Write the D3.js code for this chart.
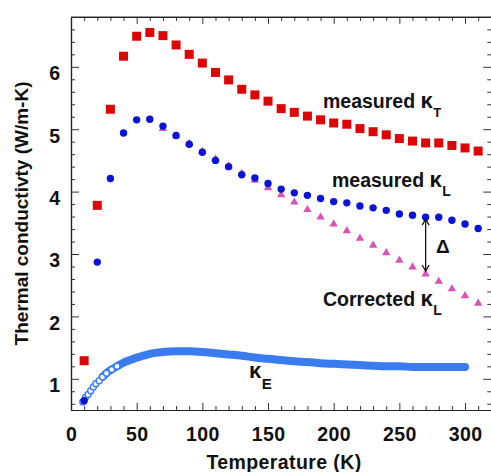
<!DOCTYPE html>
<html>
<head>
<meta charset="utf-8">
<script src="https://cdn.jsdelivr.net/npm/d3@7"></script>
<style>
  body { margin: 0; background: #fff; }
  svg text { font-family: "Liberation Sans", Arial, sans-serif; font-weight: bold; fill: #111; }
</style>
</head>
<body>
<div id="chart"></div>
<script>
// temperatures of the measured points (K)
const temps = [10, 20, 30, 40, 50, 60, 70, 80, 90, 100, 110, 120, 130, 140, 150, 160,
  170, 180, 190, 200, 210, 220, 230, 240, 250, 260, 270, 280, 290, 300, 310];

// measured total kappa_T
const kappaT = [1.29, 3.78, 5.32, 6.17, 6.49, 6.55, 6.50, 6.35, 6.20, 6.06, 5.91, 5.79, 5.64, 5.55, 5.45, 5.33,
  5.27, 5.21, 5.15, 5.10, 5.08, 5.01, 4.96, 4.91, 4.85, 4.81, 4.78, 4.78, 4.74, 4.70, 4.65];

// measured lattice kappa_L
const kappaL = [0.65, 2.87, 4.21, 4.94, 5.15, 5.16, 5.05, 4.90, 4.76, 4.63, 4.50, 4.40, 4.27, 4.22, 4.13, 4.04,
  3.98, 3.94, 3.89, 3.84, 3.82, 3.77, 3.74, 3.70, 3.64, 3.62, 3.59, 3.59, 3.54, 3.48, 3.41];

// corrected kappa_L (starts at 70 K)
const correctedTemps = [70, 80, 90, 100, 110, 120, 130, 140, 150, 160, 170, 180, 190, 200,
  210, 220, 230, 240, 250, 260, 270, 280, 290, 300, 310];
const correctedL = [5.01, 4.89, 4.77, 4.64, 4.52, 4.41, 4.29, 4.18, 4.06, 3.95, 3.83, 3.71, 3.59, 3.48,
  3.37, 3.25, 3.14, 3.02, 2.90, 2.79, 2.68, 2.56, 2.44, 2.33, 2.21];

// electronic kappa_E
const kappaETemps = [9, 11, 13, 15, 17, 19, 21.5, 24, 27, 31, 35, 40, 45, 50, 55, 60, 70, 80, 90, 100,
  110, 120, 130, 140, 150, 160, 170, 180, 190, 200, 210, 220, 230, 240, 250, 260, 270, 280, 290, 300];
const kappaE = [0.63, 0.70, 0.75, 0.81, 0.87, 0.92, 0.97, 1.03, 1.09, 1.15, 1.20, 1.26, 1.30, 1.34, 1.37, 1.40,
  1.43, 1.44, 1.44, 1.43, 1.41, 1.39, 1.37, 1.34, 1.32, 1.30, 1.28, 1.27, 1.25, 1.24, 1.23, 1.22,
  1.21, 1.20, 1.20, 1.19, 1.19, 1.19, 1.19, 1.19];

const xTicks = [0, 50, 100, 150, 200, 250, 300];
const yTicks = [1, 2, 3, 4, 5, 6];
const deltaTemp = 270;

const width = 491, height = 472;
const svg = d3.select("#chart").append("svg")
  .attr("width", width)
  .attr("height", height);

const x = d3.scaleLinear().domain([0, 320]).range([71, 491.3]);
const y = d3.scaleLinear().domain([0.5, 6.8]).range([410, 16.9]);

const xMinor = d3.range(0, 321, 10).filter(d => d % 50 !== 0);
const yMinor = d3.range(6, 69, 2).map(d => d / 10).filter(d => Math.abs(d - Math.round(d)) > 0.01);

function styleAxis(g) {
  g.select(".domain").attr("stroke", "#222").attr("stroke-width", 1.2);
  g.selectAll(".tick line").attr("stroke", "#333");
}

// bottom axis
svg.append("g")
  .attr("transform", `translate(0,${y(0.5)})`)
  .call(d3.axisBottom(x).tickValues(xMinor).tickSizeInner(-4).tickSizeOuter(0).tickFormat(""))
  .call(styleAxis);
const bottom = svg.append("g")
  .attr("transform", `translate(0,${y(0.5)})`)
  .call(d3.axisBottom(x).tickValues(xTicks).tickSizeInner(-7).tickSizeOuter(0).tickPadding(17))
  .call(styleAxis);
bottom.selectAll("text").attr("font-size", 19.5).attr("letter-spacing", 0.4).attr("fill", "#111");

// top axis
svg.append("g")
  .attr("transform", `translate(0,${y(6.8)})`)
  .call(d3.axisTop(x).tickValues(xMinor).tickSizeInner(-4).tickSizeOuter(0).tickFormat(""))
  .call(styleAxis);
svg.append("g")
  .attr("transform", `translate(0,${y(6.8)})`)
  .call(d3.axisTop(x).tickValues(xTicks).tickSizeInner(-7).tickSizeOuter(0).tickFormat(""))
  .call(styleAxis);

// left axis
svg.append("g")
  .attr("transform", `translate(${x(0)},0)`)
  .call(d3.axisLeft(y).tickValues(yMinor).tickSizeInner(-4).tickSizeOuter(0).tickFormat(""))
  .call(styleAxis);
const left = svg.append("g")
  .attr("transform", `translate(${x(0)},0)`)
  .call(d3.axisLeft(y).tickValues(yTicks).tickFormat(d3.format("d"))
    .tickSizeInner(-8).tickSizeOuter(0).tickPadding(11))
  .call(styleAxis);
left.selectAll("text").attr("font-size", 19.5).attr("dy", "0.66em").attr("fill", "#111");

// right axis
svg.append("g")
  .attr("transform", `translate(${x(320)},0)`)
  .call(d3.axisRight(y).tickValues(yMinor).tickSizeInner(-4).tickSizeOuter(0).tickFormat(""))
  .call(styleAxis);
svg.append("g")
  .attr("transform", `translate(${x(320)},0)`)
  .call(d3.axisRight(y).tickValues(yTicks).tickSizeInner(-8).tickSizeOuter(0).tickFormat(""))
  .call(styleAxis);

// axis titles
svg.append("text")
  .attr("x", 284).attr("y", 469)
  .attr("text-anchor", "middle")
  .attr("font-size", 19.5)
  .attr("letter-spacing", 0.4)
  .text("Temperature (K)");
svg.append("text")
  .attr("transform", `translate(28,${y(3.65)}) rotate(-90)`)
  .attr("text-anchor", "middle")
  .attr("font-size", 19)
  .text("Thermal conductivty (W/m-K)");

// kappa_E: dense open circles forming a thick band
const eData = kappaETemps.map((t, i) => ({ t: t, v: kappaE[i] }));
svg.append("path")
  .datum(eData.filter(d => d.t >= 24))
  .attr("fill", "none")
  .attr("stroke", "#3a7cf0")
  .attr("stroke-width", 8)
  .attr("stroke-linecap", "round")
  .attr("d", d3.line().x(d => x(d.t)).y(d => y(d.v)).curve(d3.curveMonotoneX));
svg.selectAll(".ke")
  .data(eData.filter(d => d.t <= 35))
  .join("circle")
  .attr("cx", d => x(d.t))
  .attr("cy", d => y(d.v))
  .attr("r", 3)
  .attr("fill", "#fff")
  .attr("stroke", "#3a7cf0")
  .attr("stroke-width", 1.4);

// measured kappa_T squares
svg.selectAll(".kt")
  .data(temps)
  .join("rect")
  .attr("x", (d, i) => x(d) - 4.5)
  .attr("y", (d, i) => y(kappaT[i]) - 4.5)
  .attr("width", 9)
  .attr("height", 9)
  .attr("fill", "#dd0606");

// corrected kappa_L triangles
svg.selectAll(".kc")
  .data(correctedTemps)
  .join("path")
  .attr("transform", (d, i) => `translate(${x(d)},${y(correctedL[i])})`)
  .attr("d", d3.symbol(d3.symbolTriangle, 30))
  .attr("fill", "#d853b8");

// measured kappa_L circles
svg.selectAll(".kl")
  .data(temps)
  .join("circle")
  .attr("cx", d => x(d))
  .attr("cy", (d, i) => y(kappaL[i]))
  .attr("r", 3.7)
  .attr("fill", "#0a14d8");

// delta arrow between the two kappa_L curves
const ax = x(deltaTemp);
const yTop = y(kappaL[temps.indexOf(deltaTemp)]) + 2;
const yBot = y(correctedL[correctedTemps.indexOf(deltaTemp)]) - 3;
const arrow = svg.append("g").attr("stroke", "#111").attr("stroke-width", 1.3).attr("fill", "none");
arrow.append("line").attr("x1", ax).attr("x2", ax).attr("y1", yTop).attr("y2", yBot);
arrow.append("path").attr("d", `M${ax - 3.5},${yTop + 6}L${ax},${yTop}L${ax + 3.5},${yTop + 6}`);
arrow.append("path").attr("d", `M${ax - 3.5},${yBot - 6}L${ax},${yBot}L${ax + 3.5},${yBot - 6}`);
svg.append("text").attr("x", 436).attr("y", 253).attr("font-size", 19).text("Δ");

// series labels
function label(px, py, main, sub, subSize, subDy) {
  const t = svg.append("text").attr("x", px).attr("y", py).attr("font-size", 19.5);
  if (main) t.append("tspan").text(main + " ");
  t.append("tspan").attr("font-size", 22).text("κ");
  t.append("tspan").attr("font-size", subSize).attr("dy", subDy).attr("dx", 0.5).text(sub);
}
label(323, 108, "measured", "T", 13, 9);
label(332, 187, "measured", "L", 14, 9);
label(323, 306, "Corrected", "L", 14, 9);
label(249, 378, "", "E", 15, 11);
</script>
</body>
</html>
